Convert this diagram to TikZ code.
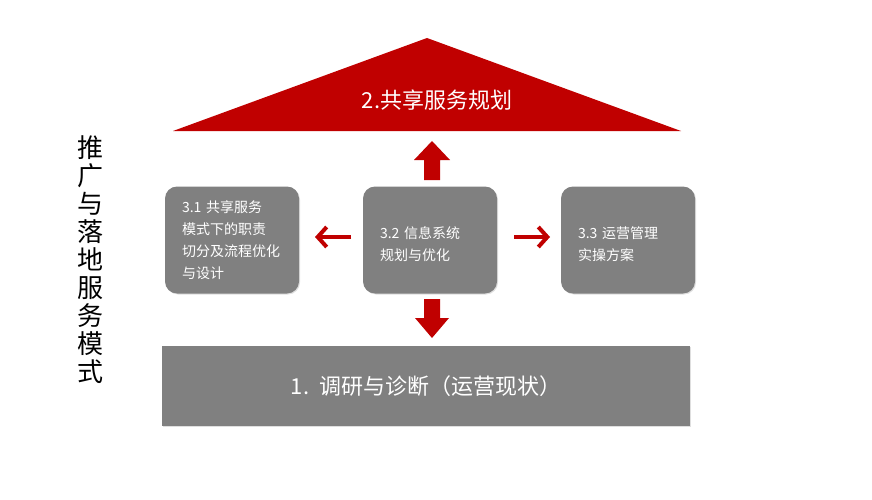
\documentclass[tikz,border=0pt]{standalone}
\usepackage{fontspec}
\setmainfont{Noto Sans CJK SC}
\usetikzlibrary{positioning, arrows.meta, shadows}
\definecolor{dkred}{HTML}{C00000}
\definecolor{boxgray}{HTML}{808080}
\tikzset{x=1pt, y=-1pt,
every node/.style={font=\fontsize{14}{22}\selectfont}, % Default text size
subbox/.style={ % Sets the properties for the three middle boxes
fill=boxgray, draw=none, rounded corners=12pt,
minimum width=134pt, minimum height=107pt,
text width=100pt, align=left, text=white,
drop shadow={opacity=0.25, shadow xshift=1pt, shadow yshift=-1pt}},
blockarrow/.style={fill=dkred, draw=none}, % Fat arrows
linearrow/.style={draw=dkred, line width=4pt, -{Straight Barb[length=9pt, width=20pt, line width=4pt]}}}

\begin{document}
\begin{tikzpicture}
    \useasboundingbox (0,0) rectangle (872,500);

    \node[font=\fontsize{26}{28}\selectfont, align=center, text width=30pt] (title) at (90,260)
        {推\\广\\与\\落\\地\\服\\务\\模\\式};

    \fill[dkred] (427,38) -- (681,131) -- (173,131) -- cycle;
    \node[text=white, font=\fontsize{22}{26}\selectfont] (plan) at (437,100) {2.共享服务规划};

    \node[subbox] (b1) at (232,240) {3.1 共享服务\\模式下的职责\\切分及流程优化\\与设计};
    \node[subbox, text depth=14pt] (b2) at (430,240) {3.2 信息系统\\规划与优化};
    \node[subbox, text depth=14pt] (b3) at (628,240) {3.3 运营管理\\实操方案};

    \node[fill=boxgray, minimum width=528pt, minimum height=80pt, text=white,
        font=\fontsize{22}{26}\selectfont,
        drop shadow={opacity=0.25, shadow xshift=1pt, shadow yshift=-1pt}] (base) at (426,386)
        {1.\ \ 调研与诊断（运营现状）};

    \fill[blockarrow] (424,180) -- (424,160) -- (414,160) -- (432,141) -- (450,160) -- (440,160) -- (440,180) -- cycle;
    \fill[blockarrow] (424,299) -- (424,318) -- (415,318) -- (432,338) -- (449,318) -- (440,318) -- (440,299) -- cycle;

    \coordinate (lfrom) at (351,237);
    \coordinate (lto) at (315,237);
    \coordinate (rfrom) at (514,237);
    \coordinate (rto) at (550,237);
    \draw[linearrow] (lfrom) -- (lto);
    \draw[linearrow] (rfrom) -- (rto);

\end{tikzpicture}
\end{document}
